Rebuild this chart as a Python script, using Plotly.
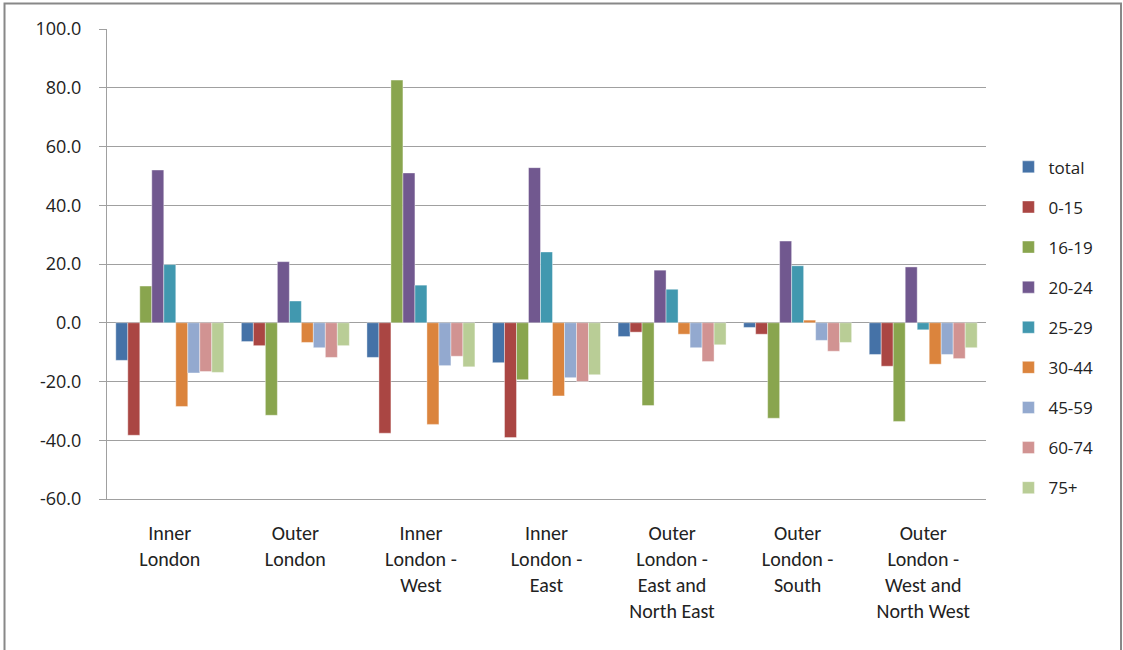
import plotly.graph_objects as go

categories = ["Inner<br>London", "Outer<br>London", "Inner<br>London -<br>West", "Inner<br>London -<br>East",
              "Outer<br>London -<br>East and<br>North East", "Outer<br>London -<br>South",
              "Outer<br>London -<br>West and<br>North West"]

series_names = ["total", "0-15", "16-19", "20-24", "25-29", "30-44", "45-59", "60-74", "75+"]

total = [-12.8, -6.4, -11.8, -13.6, -4.7, -1.6, -10.8]
age_0_15 = [-38.3, -7.8, -37.6, -39.1, -3.2, -3.9, -14.8]
age_16_19 = [12.5, -31.5, 82.6, -19.4, -28.2, -32.5, -33.6]
age_20_24 = [52.0, 20.8, 51.0, 52.8, 17.9, 27.8, 19.0]
age_25_29 = [19.8, 7.4, 12.8, 24.1, 11.4, 19.4, -2.4]
age_30_44 = [-28.5, -6.7, -34.6, -24.9, -3.9, 0.9, -14.1]
age_45_59 = [-17.1, -8.5, -14.6, -18.7, -8.5, -6.0, -10.8]
age_60_74 = [-16.6, -11.8, -11.4, -20.0, -13.2, -9.7, -12.2]
age_75_plus = [-16.9, -7.8, -15.0, -17.7, -7.5, -6.7, -8.5]

y_tick_values = [-60, -40, -20, 0, 20, 40, 60, 80, 100]
y_tick_labels = ["-60.0", "-40.0", "-20.0", "0.0", "20.0", "40.0", "60.0", "80.0", "100.0"]

series_values = [total, age_0_15, age_16_19, age_20_24, age_25_29, age_30_44, age_45_59, age_60_74, age_75_plus]
colors = ["#4572A7", "#AA4643", "#89A54E", "#71588F", "#4198AF", "#DB843D", "#93A9CF", "#D19392", "#B9CD96"]

fig = go.Figure()
for name, vals, col in zip(series_names, series_values, colors):
    fig.add_trace(go.Bar(
        x=categories, y=vals, name=name, legendgroup=name,
        marker=dict(color=col, line=dict(color="rgba(255,255,255,0.5)", width=0.8)),
    ))

font_family = "Liberation Sans Narrow, Carlito, Liberation Sans, sans-serif"

fig.update_layout(
    width=1123, height=650,
    margin=dict(l=107, r=137, t=29, b=151),
    paper_bgcolor="white", plot_bgcolor="white",
    barmode="group", bargap=0.14, bargroupgap=0.0,
    font=dict(family=font_family, size=18, color="#222222"),
    legend=dict(x=1.0255, y=0.744, xanchor="left", yanchor="top",
                font=dict(family="Open Sans, sans-serif", size=17, color="#222222"),
                tracegroupgap=15, itemwidth=30, bgcolor="rgba(0,0,0,0)"),
    showlegend=True,
    shapes=[dict(type="rect", xref="paper", yref="paper", x0=-0.1166, x1=1.1536, y0=-0.3426, y1=1.0543,
                 line=dict(color="#888888", width=2), fillcolor="rgba(0,0,0,0)", layer="below")],
)

fig.update_yaxes(range=[-60, 100], tickmode="array", tickvals=y_tick_values, ticktext=y_tick_labels,
                 showgrid=True, gridcolor="#A0A0A0", gridwidth=1,
                 zeroline=True, zerolinecolor="#A0A0A0", zerolinewidth=1,
                 showline=True, linecolor="#A0A0A0", linewidth=1,
                 ticks="outside", ticklen=7, tickcolor="#A0A0A0", ticklabelstandoff=14,
                 tickfont=dict(family="Open Sans, sans-serif", size=18, color="#222222"))
fig.update_xaxes(showgrid=False, showline=True, linecolor="#A0A0A0", linewidth=1, ticks="",
                 ticklabelstandoff=16,
                 tickfont=dict(family=font_family, size=20, color="#222222"))

fig.write_html("out.html", config={"displayModeBar": False},
               post_script="document.body.style.margin='0';")
